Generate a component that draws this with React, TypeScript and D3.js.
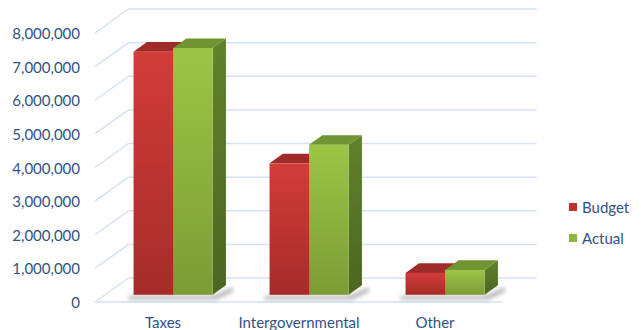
import React from "react";
import * as d3 from "d3";

const categories = ["Taxes", "Intergovernmental", "Other"];
const seriesNames = ["Budget", "Actual"];
const budgetValues = [7230000, 3910000, 650000];
const actualValues = [7340000, 4460000, 740000];
const yTicks = [0, 1000000, 2000000, 3000000, 4000000, 5000000, 6000000, 7000000, 8000000];

const W = 641;
const H = 330;
const FONT = "Lato, 'Open Sans', sans-serif";
const TEXT = "#2F5288";
const GRID = "#D3E2F4";

// oblique projection of the depth axis
const DEPTH_DX = 33.5;
const DEPTH_DY = -24;
const F0 = 0.3; // bar front depth fraction
const F1 = 0.7; // bar back depth fraction

export default function App() {
  const x = d3.scaleBand<string>().domain(categories).range([95, 503]).padding(0);
  const inner = d3
    .scaleBand<string>()
    .domain(seriesNames)
    .range([(x.bandwidth() - 79) / 2, (x.bandwidth() + 79) / 2])
    .padding(0);
  const y = d3.scaleLinear().domain([0, 8000000]).range([302, 33]);
  const fmt = d3.format(",");

  const ddx = (F1 - F0) * DEPTH_DX;
  const ddy = (F1 - F0) * DEPTH_DY;
  const valuesBySeries: Record<string, number[]> = { Budget: budgetValues, Actual: actualValues };

  const pts = (p: [number, number][]) => p.map((q) => q.join(",")).join(" ");

  const bars: React.ReactNode[] = [];
  const shadows: React.ReactNode[] = [];
  categories.forEach((c, ci) => {
    const bx0 = (x(c) as number) + (inner("Budget") as number) + F0 * DEPTH_DX;
    const bx1 = (x(c) as number) + (inner("Actual") as number) + inner.bandwidth() + F0 * DEPTH_DX;
    const yb = y(0) + F0 * DEPTH_DY;
    shadows.push(
      <polygon
        key={"sh" + ci}
        points={pts([
          [bx0 - 4, yb + 1],
          [bx1, yb + 1],
          [bx1 + ddx + 6, yb + ddy + 2],
          [bx1 + ddx + 8, yb + ddy + 6],
          [bx1 + 4, yb + 5],
          [bx0 - 6, yb + 5],
        ])}
        fill="#000"
        opacity={0.28}
        filter="url(#soft)"
      />
    );
    seriesNames.forEach((s) => {
      const v = valuesBySeries[s][ci];
      const x0 = (x(c) as number) + (inner(s) as number) + F0 * DEPTH_DX;
      const x1 = x0 + inner.bandwidth();
      const yt = y(v) + F0 * DEPTH_DY;
      const key = s === "Budget" ? "r" : "g";
      bars.push(
        <g key={s + c}>
          <polygon
            points={pts([
              [x1, yt],
              [x1 + ddx, yt + ddy],
              [x1 + ddx, yb + ddy],
              [x1, yb],
            ])}
            fill={`url(#${key}Side)`}
          />
          <polygon
            points={pts([
              [x0, yt],
              [x1, yt],
              [x1 + ddx, yt + ddy],
              [x0 + ddx, yt + ddy],
            ])}
            fill={key === "r" ? "#9F2B29" : "#6F9431"}
          />
          <rect x={x0} y={yt} width={x1 - x0} height={yb - yt} fill={`url(#${key}Front)`} />
        </g>
      );
    });
  });

  return (
    <svg width={W} height={H} style={{ position: "absolute", left: 0, top: 0, background: "#fff" }}>
      <defs>
        <linearGradient id="rFront" x1="0" y1="0" x2="0" y2="1">
          <stop offset="0" stopColor="#D23C39" />
          <stop offset="1" stopColor="#A52C2A" />
        </linearGradient>
        <linearGradient id="gFront" x1="0" y1="0" x2="0" y2="1">
          <stop offset="0" stopColor="#9DC545" />
          <stop offset="1" stopColor="#7B9C36" />
        </linearGradient>
        <linearGradient id="rSide" x1="0" y1="0" x2="0" y2="1">
          <stop offset="0" stopColor="#8E2523" />
          <stop offset="1" stopColor="#6E1B1A" />
        </linearGradient>
        <linearGradient id="gSide" x1="0" y1="0" x2="0" y2="1">
          <stop offset="0" stopColor="#62822B" />
          <stop offset="1" stopColor="#4B6621" />
        </linearGradient>
        <filter id="soft" x="-20%" y="-100%" width="140%" height="300%">
          <feGaussianBlur stdDeviation="2" />
        </filter>
      </defs>

      {/* back wall and side wall grid */}
      {yTicks.map((t) => (
        <g key={t} stroke={GRID} strokeWidth={1.5} fill="none">
          <line x1={95} y1={y(t)} x2={95 + DEPTH_DX} y2={y(t) + DEPTH_DY} />
          <line x1={95 + DEPTH_DX} y1={y(t) + DEPTH_DY} x2={503 + DEPTH_DX} y2={y(t) + DEPTH_DY} />
        </g>
      ))}
      <line x1={95} y1={y(0)} x2={503} y2={y(0)} stroke={GRID} strokeWidth={1.5} />

      {shadows}
      {bars}

      {/* y axis labels */}
      {yTicks.map((t) => (
        <text
          key={"l" + t}
          x={80}
          y={y(t)}
          textAnchor="end"
          dominantBaseline="central"
          fontFamily={FONT}
          fontSize={15}
          fill={TEXT}
        >
          {fmt(t)}
        </text>
      ))}

      {/* category labels */}
      {categories.map((c) => (
        <text
          key={"c" + c}
          x={(x(c) as number) + x.bandwidth() / 2}
          y={322}
          textAnchor="middle"
          dominantBaseline="central"
          fontFamily={FONT}
          fontSize={15}
          fill={TEXT}
        >
          {c}
        </text>
      ))}

      {/* legend */}
      {seriesNames.map((s, i) => (
        <g key={"lg" + s} transform={`translate(569,${207 + i * 31})`}>
          <rect x={0} y={-4} width={8} height={8} fill={i === 0 ? "#C0302E" : "#8DB33F"} />
          <text x={13} y={0} dominantBaseline="central" fontFamily={FONT} fontSize={15} fill={TEXT}>
            {s}
          </text>
        </g>
      ))}
    </svg>
  );
}
